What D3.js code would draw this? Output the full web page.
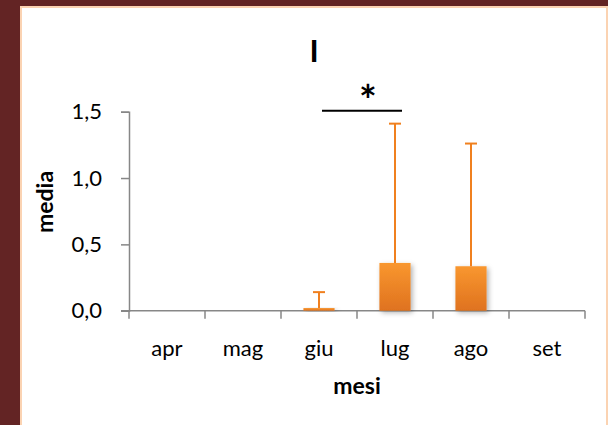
<!DOCTYPE html>
<html>
<head>
<meta charset="utf-8">
<script src="https://d3js.org/d3.v7.min.js"></script>
<style>
  body { margin: 0; padding: 0; background: #632424; }
  svg { display: block; }
</style>
</head>
<body>
<svg id="chart"></svg>
<script>
// months, means and std dev
var mesi = ["apr", "mag", "giu", "lug", "ago", "set"];
var media = [0, 0, 0.02, 0.36, 0.335, 0];
var devst = [0, 0, 0.12, 1.05, 0.925, 0];
var yTicks = [0, 0.5, 1.0, 1.5];
var titolo = "I";

var width = 608;
var height = 425;

var svg = d3.select('#chart')
    .attr("width", width)
    .attr("height", height);

var defs = svg.append("defs");
var grad = defs.append("linearGradient")
    .attr("id", "barGrad")
    .attr("x1", 0).attr("y1", 0).attr("x2", 0).attr("y2", 1);
grad.append("stop").attr("offset", "0%").attr("stop-color", "#f9972f");
grad.append("stop").attr("offset", "100%").attr("stop-color", "#df721f");

var shadow = defs.append("filter")
    .attr("id", "shadow")
    .attr("x", "-30%").attr("y", "-30%").attr("width", "160%").attr("height", "160%");
shadow.append("feDropShadow")
    .attr("dx", 2).attr("dy", 2)
    .attr("stdDeviation", 2.5)
    .attr("flood-color", "#000")
    .attr("flood-opacity", 0.3);

// background + panel
svg.append("rect")
    .attr("width", width).attr("height", height)
    .attr("fill", "#632424");
svg.append("rect")
    .attr("x", 21).attr("y", 7)
    .attr("width", 586).attr("height", 430)
    .attr("fill", "#fff")
    .attr("stroke", "#fbd3b2")
    .attr("stroke-width", 2);

var pLeft = 129, pRight = 585, pTop = 111.7, pBottom = 310.7;

var x = d3.scaleBand()
    .domain(mesi)
    .range([pLeft, pRight])
    .paddingInner(0.59)
    .paddingOuter(0.295);

var xAxisScale = d3.scaleBand().domain(mesi).range([pLeft, pRight]);

var y = d3.scaleLinear()
    .domain([0, 1.5])
    .range([pBottom, pTop]);

var font = "Lato, 'Open Sans', sans-serif";
var axisCol = "#878787";
var labSize = "22px";
var titSize = "23px";

// y axis
var yAxis = svg.append("g")
    .attr("transform", "translate(" + pLeft + ",0)")
    .call(d3.axisLeft(y).tickValues(yTicks).tickSize(8).tickPadding(19)
        .tickFormat(function(d){ return d3.format(".1f")(d).replace(".", ","); }));
yAxis.select(".domain").attr("stroke", axisCol).attr("stroke-width", 1.5);
yAxis.selectAll(".tick line").attr("stroke", axisCol).attr("stroke-width", 1.5);
yAxis.selectAll("text")
    .attr("fill", "#000")
    .style("font-family", font)
    .style("font-size", labSize);
// small stub below the origin
svg.append("line")
    .attr("x1", pLeft).attr("x2", pLeft)
    .attr("y1", pBottom).attr("y2", pBottom + 8)
    .attr("stroke", axisCol).attr("stroke-width", 1.5);

// x axis
svg.append("line")
    .attr("x1", pLeft - 8).attr("x2", pRight)
    .attr("y1", pBottom).attr("y2", pBottom)
    .attr("stroke", axisCol).attr("stroke-width", 1.5);
svg.selectAll(".xtick")
    .data(mesi)
    .enter().append("line")
    .attr("class", "xtick")
    .attr("x1", function(d){ return xAxisScale(d) + xAxisScale.bandwidth(); })
    .attr("x2", function(d){ return xAxisScale(d) + xAxisScale.bandwidth(); })
    .attr("y1", pBottom).attr("y2", pBottom + 8)
    .attr("stroke", axisCol).attr("stroke-width", 1.5);
svg.selectAll(".xlab")
    .data(mesi)
    .enter().append("text")
    .attr("class", "xlab")
    .attr("x", function(d){ return xAxisScale(d) + xAxisScale.bandwidth() / 2; })
    .attr("y", 356)
    .attr("text-anchor", "middle")
    .style("font-family", font)
    .style("font-size", labSize)
    .text(function(d){ return d; });

// bars
svg.selectAll(".bar")
    .data(mesi.filter(function(d, i){ return media[i] > 0; }))
    .enter().append("rect")
    .attr("class", "bar")
    .attr("x", function(d){ return x(d); })
    .attr("width", x.bandwidth())
    .attr("y", function(d){ return y(media[mesi.indexOf(d)]); })
    .attr("height", function(d){ return Math.max(pBottom - y(media[mesi.indexOf(d)]), 2); })
    .attr("fill", "url(#barGrad)")
    .attr("filter", "url(#shadow)");

// error bars (upper only)
var errCol = "#f0801f";
mesi.forEach(function(m, i){
    if(devst[i] <= 0) return;
    var cx = x(m) + x.bandwidth() / 2;
    svg.append("line")
        .attr("x1", cx).attr("x2", cx)
        .attr("y1", y(media[i])).attr("y2", y(media[i] + devst[i]))
        .attr("stroke", errCol).attr("stroke-width", 2);
    svg.append("line")
        .attr("x1", cx - 6).attr("x2", cx + 6)
        .attr("y1", y(media[i] + devst[i])).attr("y2", y(media[i] + devst[i]))
        .attr("stroke", errCol).attr("stroke-width", 2);
});

// significance giu vs lug
var x1 = x("giu") + x.bandwidth() / 2 + 3;
var x2 = x("lug") + x.bandwidth() / 2 + 7;
svg.append("line")
    .attr("x1", x1).attr("x2", x2)
    .attr("y1", y(1.5) - 1).attr("y2", y(1.5) - 1)
    .attr("stroke", "#000").attr("stroke-width", 2);
svg.append("text")
    .attr("x", (x1 + x2) / 2 + 6)
    .attr("y", 116)
    .attr("text-anchor", "middle")
    .style("font-family", font)
    .style("font-size", "42px")
    .style("font-weight", "bold")
    .text("*");

// title
svg.append("text")
    .attr("x", 314)
    .attr("y", 62)
    .attr("text-anchor", "middle")
    .style("font-family", font)
    .style("font-size", "31px")
    .style("font-weight", "bold")
    .text(titolo);

// axis titles
svg.append("text")
    .attr("x", 357)
    .attr("y", 394)
    .attr("text-anchor", "middle")
    .style("font-family", font)
    .style("font-size", titSize)
    .style("font-weight", "bold")
    .text("mesi");
svg.append("text")
    .attr("transform", "translate(53,202) rotate(-90)")
    .attr("text-anchor", "middle")
    .style("font-family", font)
    .style("font-size", titSize)
    .style("font-weight", "bold")
    .text("media");
</script>
</body>
</html>
